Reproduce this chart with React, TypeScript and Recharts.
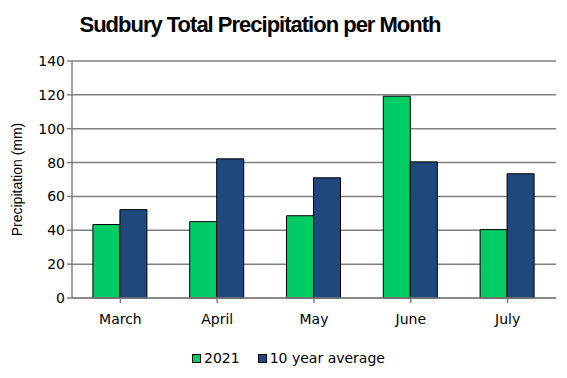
import React from 'react';
import {
  BarChart,
  Bar,
  XAxis,
  YAxis,
  CartesianGrid,
  Legend,
} from 'recharts';

const months = ['March', 'April', 'May', 'June', 'July'];
const precip2021 = [43.4, 45.1, 48.6, 119.2, 40.4];
const tenYearAvg = [52.2, 82.2, 71.0, 80.4, 73.4];
const yTicks = [0, 20, 40, 60, 80, 100, 120, 140];

const data = months.map((month, i) => ({
  month,
  y2021: precip2021[i],
  avg: tenYearAvg[i],
}));

const FONT = '"DejaVu Sans", sans-serif';

function LegendBox() {
  const items = [
    { label: '2021', color: '#00CC66' },
    { label: '10 year average', color: '#1F497D' },
  ];
  return (
    <div style={{ display: 'flex', justifyContent: 'center', gap: 18, paddingLeft: 10, fontFamily: FONT, fontSize: 14, color: '#000' }}>
      {items.map((it) => (
        <span key={it.label} style={{ display: 'flex', alignItems: 'center' }}>
          <span
            style={{
              width: 7,
              height: 7,
              background: it.color,
              border: '1px solid #000',
              marginRight: 3,
              display: 'inline-block',
            }}
          />
          {it.label}
        </span>
      ))}
    </div>
  );
}

export default function App() {
  return (
    <div style={{ position: 'relative', width: 567, height: 378, background: '#fff' }}>
      <style>{'body{margin:0}'}</style>
      <div
        style={{
          position: 'absolute',
          top: 12,
          left: 0,
          width: 520,
          textAlign: 'center',
          fontFamily: '"Liberation Sans", Arial, sans-serif',
          fontWeight: 'bold',
          fontSize: 22,
          letterSpacing: -1,
          color: '#000',
          zIndex: 1,
        }}
      >
        Sudbury Total Precipitation per Month
      </div>
      <BarChart
        width={567}
        height={378}
        data={data}
        margin={{ top: 61, right: 11, left: 0, bottom: 24 }}
        barGap={0}
        barCategoryGap="21.6%"
      >
        <CartesianGrid vertical={false} stroke="#808080" strokeWidth={1.5} />
        <XAxis
          dataKey="month"
          stroke="#808080"
          strokeWidth={1.5}
          tickSize={5}
          tick={{ fill: '#000', fontFamily: FONT, fontSize: 14, dy: 9 }}
          height={40}
        />
        <YAxis
          domain={[0, 140]}
          ticks={yTicks}
          width={72}
          stroke="#808080"
          strokeWidth={1.5}
          tickSize={5}
          tick={{ fill: '#000', fontFamily: FONT, fontSize: 14 }}
          label={{
            value: 'Precipitation (mm)',
            angle: -90,
            position: 'insideLeft',
            dx: 12,
            style: { textAnchor: 'middle', fill: '#000', fontFamily: '"Liberation Sans", Arial, sans-serif', fontSize: 14 },
          }}
        />
        <Legend
          verticalAlign="bottom"
          content={() => <LegendBox />}
          wrapperStyle={{ left: 0, width: 567, bottom: 12 }}
        />
        <Bar dataKey="y2021" name="2021" fill="#00CC66" stroke="#000" strokeWidth={1} isAnimationActive={false} />
        <Bar dataKey="avg" name="10 year average" fill="#1F497D" stroke="#000" strokeWidth={1} isAnimationActive={false} />
      </BarChart>
    </div>
  );
}
